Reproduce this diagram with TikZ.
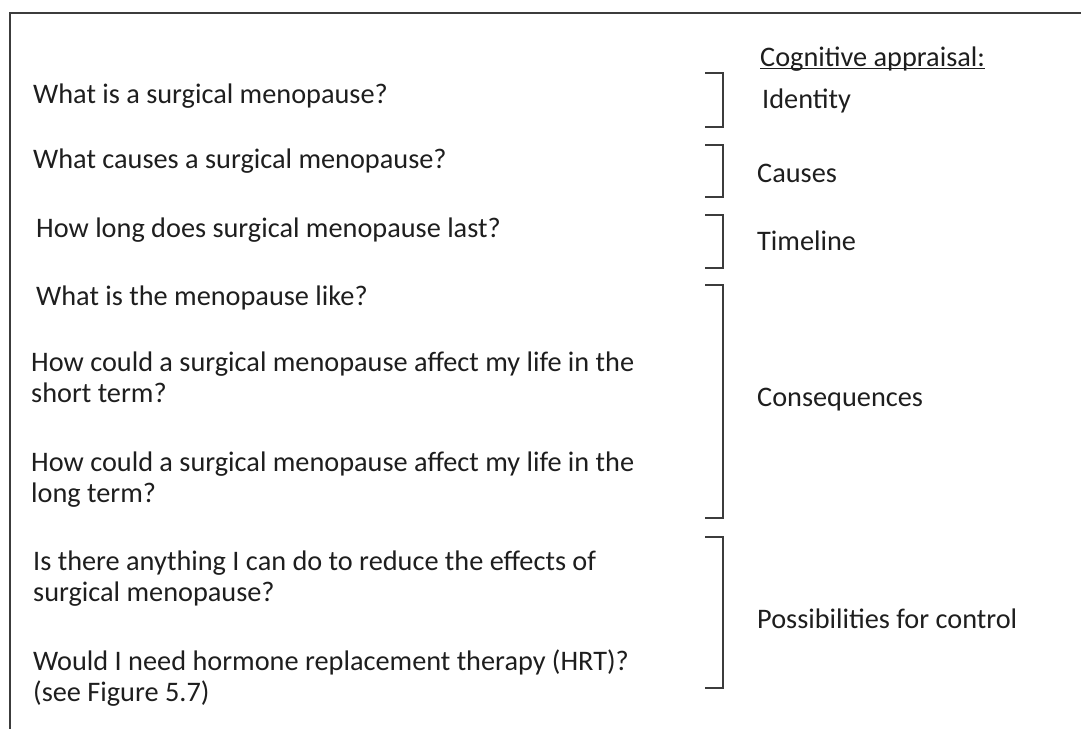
\documentclass[tikz,border=0pt]{standalone}
\usepackage{fontspec}
\setmainfont{Carlito}
\usepackage{tikz}

\definecolor{inkgray}{HTML}{1E1E1E}
\definecolor{rulegray}{HTML}{3C3C3C}

\begin{document}
\begin{tikzpicture}[x=1pt,y=-1pt,
    q/.style={anchor=base west,inner sep=0pt,align=left,text=inkgray,
      font=\fontsize{28.3}{31}\selectfont},
    appr/.style={q},
    bracket/.style={draw=rulegray,line width=1.3pt}]
	\useasboundingbox (0,0) rectangle (1081,729);

	% frame
	\coordinate (TL) at (10,13);
	\coordinate (TR) at (1081,13);
	\coordinate (BL) at (10,729);
	\draw[rulegray,line width=1.1pt] (TR) -- (TL) -- (BL);

	\node[appr] (head) at (760,66) {Cognitive appraisal:};
	\draw[inkgray,line width=1pt] ([yshift=-2.5pt]head.base west) -- ([yshift=-2.5pt]head.base east);

	\node[q] (q1) at (33,103) {What is a surgical menopause?};
	\node[q] (q2) at (33,168) {What causes a surgical menopause?};
	\node[q] (q3) at (36,237) {How long does surgical menopause last?};
	\node[q] (q4) at (36,305) {What is the menopause like?};
	% two-line nodes sit on the baseline of their last line
	\node[q] (q5) at (31,402) {How could a surgical menopause affect my life in the\\short term?};
	\node[q] (q6) at (31,502) {How could a surgical menopause affect my life in the\\long term?};
	\node[q] (q7) at (33,601) {Is there anything I can do to reduce the effects of\\surgical menopause?};
	\node[q] (q8) at (33,701) {Would I need hormone replacement therapy (HRT)?\\(see Figure 5.7)};

	\node[appr] (a1) at (762,108) {Identity};
	\node[appr] (a2) at (757,182) {Causes};
	\node[appr] (a3) at (757,250) {Timeline};
	\node[appr] (a4) at (757,406) {Consequences};
	\node[appr] (a5) at (757,628) {Possibilities for control};

	\foreach \t/\b in {73/127, 145/197, 215/268, 285/518, 537/688}
	\draw[bracket] (705,\t) -- (723,\t) -- (723,\b) -- (705,\b);
\end{tikzpicture}
\end{document}
